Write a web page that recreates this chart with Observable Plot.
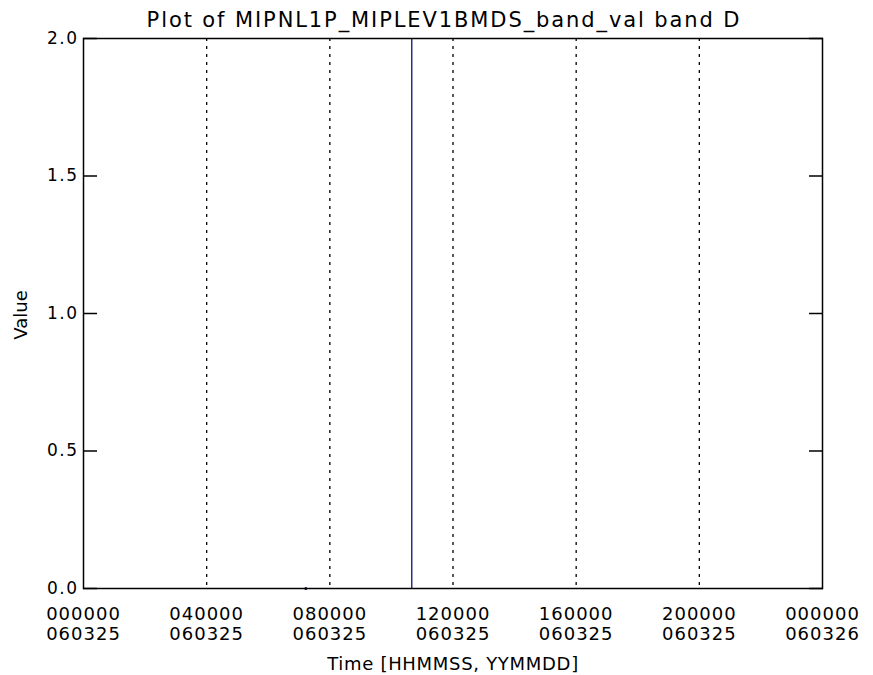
<!DOCTYPE html>
<html>
<head>
<meta charset="utf-8">
<script src="https://cdn.jsdelivr.net/npm/d3@7"></script>
<script src="https://cdn.jsdelivr.net/npm/@observablehq/plot@0.6"></script>
<style>
  html, body { margin: 0; padding: 0; background: #fff; }
  #chart { width: 873px; height: 675px; }
  svg { font-family: "DejaVu Sans", sans-serif; }
</style>
</head>
<body>
<div id="chart"></div>
<script>
// Title and axis labels
const titleText = "Plot of MIPNL1P_MIPLEV1BMDS_band_val band D";
const xLabel = "Time [HHMMSS, YYMMDD]";
const yLabel = "Value";

// X ticks (hours since 060325 000000)
const xTickHours = [0, 4, 8, 12, 16, 20, 24];
const xTickTimes = ["000000", "040000", "080000", "120000", "160000", "200000", "000000"];
const xTickDates = ["060325", "060325", "060325", "060325", "060325", "060325", "060326"];
const gridHours = [4, 8, 12, 16, 20];

// Y ticks
const yTicks = [0, 0.5, 1.0, 1.5, 2.0];

// Series (hours, value)
const spikeHours = [10.66, 10.66];
const spikeValues = [0, 2.0];
const dotHours = [7.22];
const dotValues = [0];

const spike = spikeHours.map((h, i) => ({h, v: spikeValues[i]}));
const dots = dotHours.map((h, i) => ({h, v: dotValues[i]}));
const tickLabel = new Map(xTickHours.map((h, i) => [h, xTickTimes[i] + "\n" + xTickDates[i]]));

const chart = Plot.plot({
  width: 873,
  height: 675,
  marginLeft: 83,
  marginRight: 51,
  marginTop: 38,
  marginBottom: 87,
  style: {fontFamily: "DejaVu Sans, sans-serif", background: "#fff", color: "#000"},
  x: {domain: [0, 24]},
  y: {domain: [0, 2]},
  marks: [
    Plot.ruleX(gridHours, {stroke: "#000", strokeWidth: 1.3, strokeDasharray: "3,5"}),
    Plot.line(spike, {x: "h", y: "v", stroke: "#2b2b8c", strokeWidth: 1.5, clip: true}),
    Plot.dot(dots, {x: "h", y: "v", r: 1.5, fill: "#111133", stroke: "none"}),
    Plot.axisX({ticks: xTickHours, tickFormat: d => tickLabel.get(d), tickSize: 0, tickPadding: 17,
      fontSize: 18, lineHeight: 1.11, label: null}),
    Plot.axisY({ticks: yTicks, tickFormat: d => d.toFixed(1), tickSize: 0, tickPadding: 5, fontSize: 17,
      label: null}),
    Plot.axisY({ticks: yTicks, tickFormat: () => "", tickSize: -14, strokeWidth: 1.5, label: null}),
    Plot.axisY({anchor: "right", ticks: yTicks, tickFormat: () => "", tickSize: -14, strokeWidth: 1.5, label: null}),
    Plot.frame({stroke: "#000", strokeWidth: 1.5})
  ]
});

const svg = d3.select(chart);
// remove empty tick texts of the tick-only axes
svg.selectAll("text").filter(function() { return this.textContent === ""; }).remove();
svg.selectAll("text").filter(function() { return /^\d{6}/.test(this.textContent); }).attr("letter-spacing", 1);
svg.selectAll("text").filter(function() { return /^\d\.\d$/.test(this.textContent); }).attr("letter-spacing", 1.5);

svg.append("text")
  .attr("x", 444).attr("y", 27)
  .attr("text-anchor", "middle")
  .attr("font-size", 21)
  .attr("letter-spacing", 1.9)
  .attr("fill", "#000")
  .text(titleText);
svg.append("text")
  .attr("x", 453).attr("y", 670)
  .attr("text-anchor", "middle")
  .attr("font-size", 18)
  .attr("letter-spacing", 0.7)
  .attr("fill", "#000")
  .text(xLabel);
svg.append("text")
  .attr("transform", "translate(27,315) rotate(-90)")
  .attr("text-anchor", "middle")
  .attr("font-size", 18)
  .attr("fill", "#000")
  .text(yLabel);

document.getElementById("chart").appendChild(chart);
</script>
</body>
</html>
